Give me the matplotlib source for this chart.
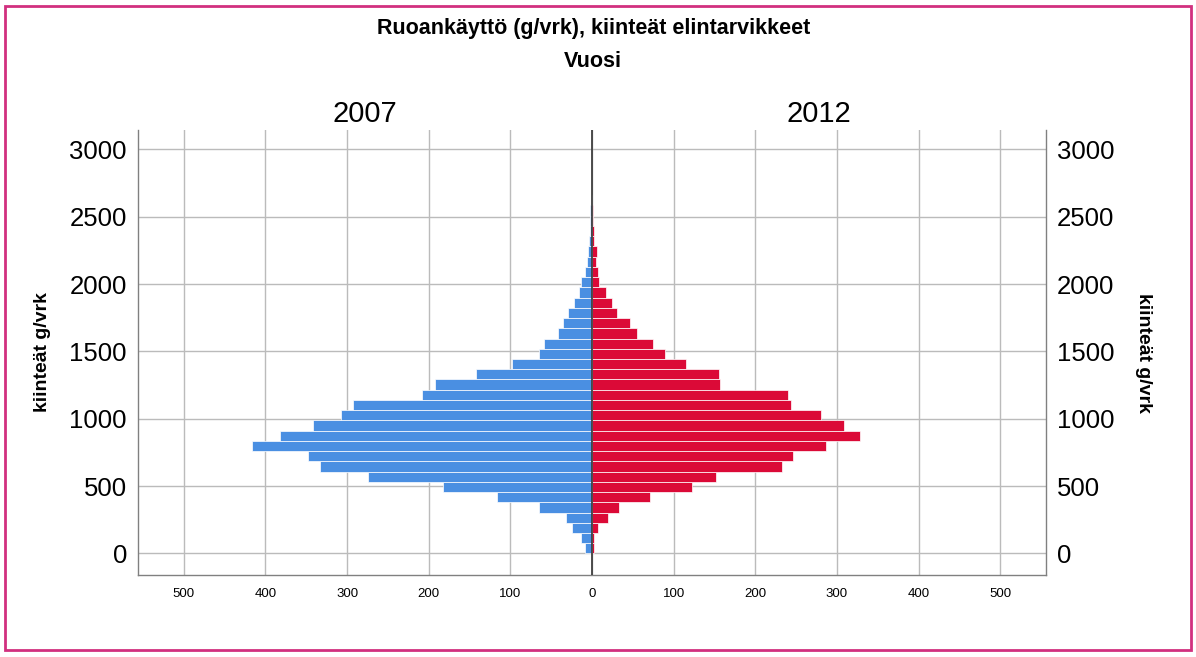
import matplotlib

matplotlib.use("Agg")
import matplotlib.pyplot as plt
from matplotlib.patches import Rectangle

plt.rcParams["font.family"] = ["Liberation Sans", "DejaVu Sans"]

# histogram bins (lower edges, g/vrk) and counts per year
bin_edges = [0, 76, 152, 228, 304, 380, 456, 532, 608, 684, 760, 836, 912, 988,
             1064, 1140, 1216, 1292, 1368, 1444, 1520, 1596, 1672, 1748, 1824,
             1900, 1976, 2052, 2128, 2204, 2280, 2356, 2432, 2508, 2584]
bin_width = 76
counts_2007 = [8, 14, 24, 32, 65, 116, 183, 274, 333, 348, 416, 382, 342, 308,
               293, 208, 192, 142, 98, 65, 59, 42, 35, 29, 22, 16, 13, 8, 6, 5,
               4, 3, 2, 2, 1]
counts_2012 = [2, 3, 7, 20, 33, 71, 122, 152, 233, 246, 287, 328, 308, 281,
               244, 240, 157, 155, 115, 89, 75, 55, 47, 30, 24, 17, 9, 7, 5, 6,
               3, 2, 1, 1, 0]
years = ["2007", "2012"]
x_ticks = [-500, -400, -300, -200, -100, 0, 100, 200, 300, 400, 500]
y_ticks = [0, 500, 1000, 1500, 2000, 2500, 3000]

blue = "#4A8FE2"
red = "#DB0A37"

fig = plt.figure(figsize=(11.96, 6.57), dpi=100)
ax = fig.add_axes([0.1154, 0.1248, 0.7592, 0.6773])

ax.barh(bin_edges, [-c for c in counts_2007], height=bin_width, align="edge",
        color=blue, edgecolor="white", linewidth=0.5, zorder=3)
ax.barh(bin_edges, counts_2012, height=bin_width, align="edge",
        color=red, edgecolor="white", linewidth=0.5, zorder=3)

ax.set_xlim(-556, 556)
ax.set_ylim(-160, 3144)

ax.set_xticks(x_ticks)
ax.set_xticklabels([str(abs(t)) for t in x_ticks], fontsize=9.5)
ax.set_yticks(y_ticks)
ax.set_yticklabels([str(t) for t in y_ticks], fontsize=18.5)
ax.tick_params(axis="y", length=0, pad=8, labelright=True)
ax.tick_params(axis="x", length=0, pad=9)

ax.grid(True, color="#BBBBBB", linewidth=1, zorder=0)
ax.axvline(0, color="#404040", linewidth=1.3, zorder=4)

ax.spines["top"].set_visible(False)
for side in ["left", "right", "bottom"]:
    ax.spines[side].set_color("#808080")
    ax.spines[side].set_linewidth(1)

ax.set_ylabel("kiinteät g/vrk", fontsize=14, fontweight="bold", labelpad=13)
ax.text(1.107, 0.5, "kiinteät g/vrk", transform=ax.transAxes, rotation=270,
        fontsize=14, fontweight="bold", ha="center", va="center")

ax.text(-278, 3260, years[0], fontsize=21, ha="center", va="center")
ax.text(278, 3260, years[1], fontsize=21, ha="center", va="center")

fig.text(0.496, 0.957, "Ruoankäyttö (g/vrk), kiinteät elintarvikkeet",
         fontsize=15.5, fontweight="bold", ha="center", va="center")
fig.text(0.496, 0.906, "Vuosi", fontsize=15.5, fontweight="bold",
         ha="center", va="center")

# pink frame around the whole image
fig.patches.append(Rectangle((0.004, 0.01), 0.992, 0.981, transform=fig.transFigure,
                             fill=False, edgecolor="#D1307F", linewidth=2))

fig.savefig("out.png", dpi=100)
